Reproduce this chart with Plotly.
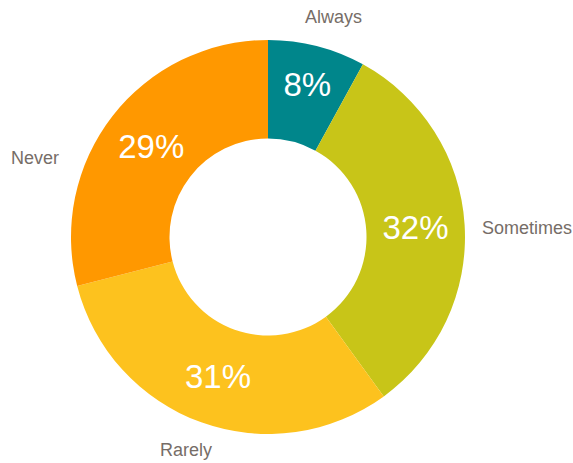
import plotly.graph_objects as go

categories = ["Always", "Sometimes", "Rarely", "Never"]
shares = [8, 32, 31, 29]
colors = ["#00868B", "#C8C518", "#FDC21E", "#FF9800"]

W, H = 573, 463
cx, cy, R = 268, 237, 197
dom_x = [(cx - R) / W, (cx + R) / W]
dom_y = [(H - cy - R) / H, (H - cy + R) / H]

# pixel centres of the category captions around the ring
label_pos = {
    "Always": (333, 17),
    "Sometimes": (527, 228),
    "Rarely": (186, 450),
    "Never": (35, 158),
}

font = "Liberation Sans, Arial, sans-serif"

fig = go.Figure()

fig.add_trace(go.Pie(
    labels=categories, values=shares, sort=False, direction="clockwise",
    rotation=0, hole=0.5, domain=dict(x=dom_x, y=dom_y),
    marker=dict(colors=colors, line=dict(width=0)),
    texttemplate="%{value}%", textposition="inside",
    insidetextorientation="horizontal",
    insidetextfont=dict(family=font, size=33, color="white"),
    showlegend=False,
))

for name in categories:
    px, py = label_pos[name]
    fig.add_annotation(
        x=px / W, y=1 - py / H, xref="paper", yref="paper",
        text=name, showarrow=False, xanchor="center", yanchor="middle",
        font=dict(family=font, size=18, color="#766D67"),
    )

fig.update_layout(
    width=W, height=H, margin=dict(l=0, r=0, t=0, b=0),
    paper_bgcolor="white", plot_bgcolor="white",
)

fig.write_html("out.html")
